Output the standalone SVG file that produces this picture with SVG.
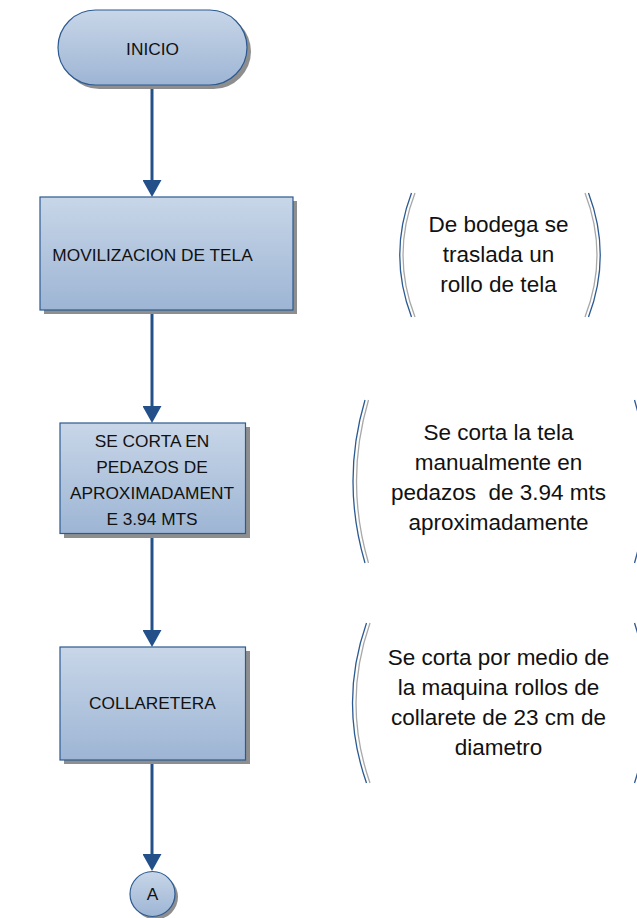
<svg xmlns="http://www.w3.org/2000/svg" width="637" height="918" viewBox="0 0 637 918">
<defs>
<linearGradient id="fill" x1="0" y1="0" x2="0" y2="1">
<stop offset="0" stop-color="#c8d6e8"/>
<stop offset="1" stop-color="#9db5d4"/>
</linearGradient>
<marker id="arr" viewBox="0 0 17 19" refX="9" refY="9.5" markerWidth="17" markerHeight="19" markerUnits="userSpaceOnUse" orient="auto">
<path d="M0,0 L17,9.5 L0,19 z" fill="#24508a"/>
</marker>
<style>
.shape{fill:url(#fill);stroke:#2c5a91;stroke-width:1.2}
.shadow{fill:#8e8e8e}
.lbl{font-family:"Liberation Sans",Arial,sans-serif;font-size:17.3px;fill:#111;text-anchor:middle}
.desc{font-family:"Liberation Sans",Arial,sans-serif;font-size:22.5px;fill:#111;text-anchor:middle}
.conn{stroke:#24508a;stroke-width:3;fill:none;marker-end:url(#arr)}
.bb{fill:none;stroke:#2c5a91;stroke-width:1.3}
.bg{fill:none;stroke:#a8a8a8;stroke-width:1.3}
</style>
</defs>
<rect width="637" height="918" fill="#ffffff"/>

<g id="connectors">
<line class="conn" x1="152" y1="85" x2="152" y2="189"/>
<line class="conn" x1="152" y1="311" x2="152" y2="415"/>
<line class="conn" x1="152" y1="534" x2="152" y2="639"/>
<line class="conn" x1="152" y1="761" x2="152" y2="863"/>
</g>

<g id="inicio">
<rect class="shadow" x="62" y="14" width="189" height="75" rx="37.5"/>
<rect class="shape" x="58" y="10" width="189" height="75" rx="37.5"/>
<text class="lbl" x="152.5" y="55">INICIO</text>
</g>

<g id="movilizacion">
<rect class="shadow" x="44" y="201" width="253" height="113"/>
<rect class="shape" x="40" y="197" width="253" height="113"/>
<text class="lbl" x="152.5" y="261">MOVILIZACION DE TELA</text>
</g>

<g id="corte">
<rect class="shadow" x="64" y="427" width="186" height="111"/>
<rect class="shape" x="60" y="423" width="185.5" height="110.5"/>
<text class="lbl" x="152" y="446.5">SE CORTA EN</text>
<text class="lbl" x="152" y="472.5">PEDAZOS DE</text>
<text class="lbl" x="152" y="498.5">APROXIMADAMENT</text>
<text class="lbl" x="152" y="525">E 3.94 MTS</text>
</g>

<g id="collaretera">
<rect class="shadow" x="64" y="651" width="186" height="113"/>
<rect class="shape" x="60" y="647" width="185.5" height="113"/>
<text class="lbl" x="152.5" y="709">COLLARETERA</text>
</g>

<g id="conector-a">
<circle class="shadow" cx="155.5" cy="897" r="22.5"/>
<circle class="shape" cx="152.5" cy="894" r="22.5"/>
<text class="lbl" x="152.5" y="900">A</text>
</g>

<g id="nota1">
<path class="bg" d="M415,193 Q391,255 415,317"/>
<path class="bb" d="M411.5,193 Q388,255 411.5,317"/>
<path class="bg" d="M585,193 Q609,255 585,317"/>
<path class="bb" d="M588.5,193 Q612,255 588.5,317"/>
<text class="desc" x="498.5" y="231.5">De bodega se</text>
<text class="desc" x="498.5" y="261.5">traslada un</text>
<text class="desc" x="498.5" y="291.5">rollo de tela</text>
</g>

<g id="nota2">
<path class="bg" d="M368.5,400 Q344.5,481 368.5,563"/>
<path class="bb" d="M365,400 Q341,481 365,563"/>
<path class="bg" d="M638,400 Q662,481 638,563"/>
<path class="bb" d="M634.5,400 Q658.5,481 634.5,563"/>
<text class="desc" x="498.5" y="440">Se corta la tela</text>
<text class="desc" x="498.5" y="470">manualmente en</text>
<text class="desc" x="498.5" y="500" xml:space="preserve">pedazos  de 3.94 mts</text>
<text class="desc" x="498.5" y="530">aproximadamente</text>
</g>

<g id="nota3">
<path class="bg" d="M370,623 Q342,703 370,783"/>
<path class="bb" d="M366.5,623 Q338.5,703 366.5,783"/>
<path class="bg" d="M638,623 Q664,703 638,783"/>
<path class="bb" d="M634.5,623 Q660.5,703 634.5,783"/>
<text class="desc" x="498.5" y="665">Se corta por medio de</text>
<text class="desc" x="498.5" y="695">la maquina rollos de</text>
<text class="desc" x="498.5" y="725">collarete de 23 cm de</text>
<text class="desc" x="498.5" y="755">diametro</text>
</g>
</svg>
